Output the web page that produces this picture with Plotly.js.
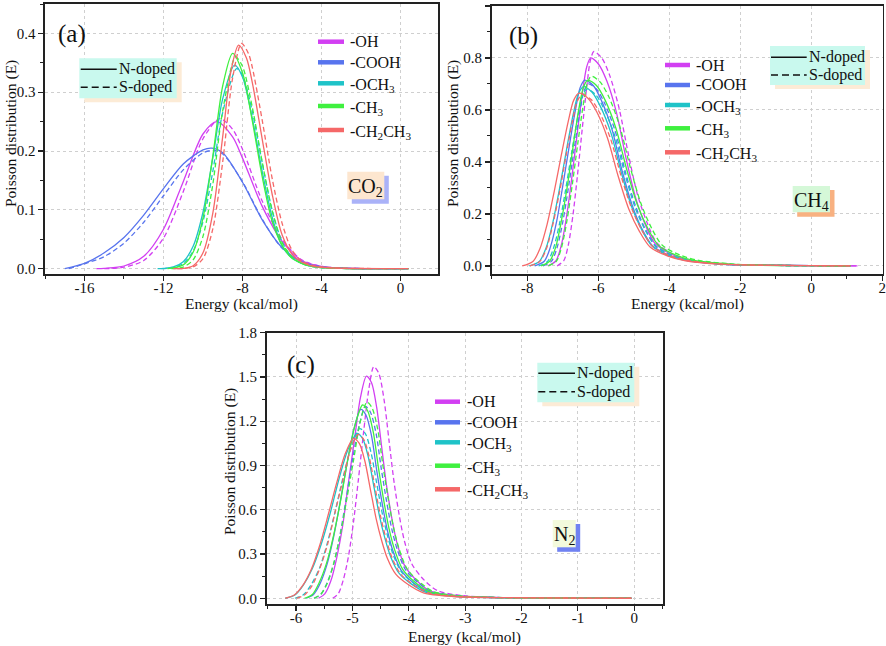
<!DOCTYPE html>
<html><head><meta charset="utf-8">
<script src="https://cdn.plot.ly/plotly-3.0.1.min.js"></script>
<style>html,body{margin:0;padding:0;background:#fff}#chart{width:886px;height:646px}</style>
</head><body><div id="chart"></div>
<script>
// ---------- Panel (a) CO2 ----------
const aOH_N_x = [-15.4,-15,-14,-13,-12,-11,-10,-9.3,-8.5,-8,-7,-6,-5,-4,-3,0.4];
const aOH_N_y = [0,0.0007,0.0046,0.021,0.067,0.148,0.229,0.25,0.224,0.188,0.106,0.047,0.014,0.004,0.001,0];
const aOH_S_x = [-15,-14,-13,-12,-11,-10,-9.15,-8.5,-8,-7,-6,-5,-4,-3,0.4];
const aOH_S_y = [0,0.0026,0.014,0.052,0.131,0.221,0.255,0.237,0.203,0.115,0.05,0.015,0.004,0.001,0];
const aCOOH_N_x = [-17,-16,-15,-14,-13,-12,-11,-10,-9.55,-9,-8,-7,-6,-5,-4,-3,-2,0.4];
const aCOOH_N_y = [0,0.009,0.027,0.053,0.091,0.136,0.178,0.202,0.205,0.197,0.147,0.083,0.036,0.012,0.003,0.001,0.0003,0];
const aCOOH_S_x = [-16.8,-16,-15,-14,-13,-12,-11,-10,-9.45,-9,-8,-7,-6,-5,-4,-3,-2,0.4];
const aCOOH_S_y = [0,0.0084,0.0206,0.0435,0.079,0.124,0.168,0.197,0.201,0.195,0.148,0.084,0.035,0.011,0.003,0.001,0.0003,0];
const aOCH3_N_x = [-12.3,-12,-11.5,-11,-10.5,-10,-9.5,-9,-8.4,-8,-7.5,-7,-6.5,-6,-5.5,-5,-4.5,-4,-3,0.4];
const aOCH3_N_y = [0,0.0005,0.003,0.012,0.038,0.096,0.189,0.289,0.346,0.326,0.255,0.165,0.088,0.039,0.018,0.009,0.004,0.002,0.0005,0];
const aOCH3_S_x = [-12.1,-11.5,-11,-10.5,-10,-9.5,-9,-8.3,-8,-7.5,-7,-6.5,-6,-5.5,-5,-4.5,-4,-3,0.4];
const aOCH3_S_y = [0,0.002,0.009,0.03,0.08,0.166,0.266,0.34,0.329,0.267,0.18,0.1,0.046,0.02,0.009,0.004,0.002,0.0005,0];
const aCH3_N_x = [-11.8,-11,-10.5,-10,-9.5,-9,-8.5,-8,-7.5,-7,-6.5,-6,-5.5,-5,-4.5,-4,-3,0.4];
const aCH3_N_y = [0,0.0065,0.028,0.086,0.192,0.311,0.366,0.333,0.251,0.156,0.081,0.04,0.018,0.009,0.004,0.002,0.0005,0];
const aCH3_S_x = [-11.6,-11,-10.5,-10,-9.5,-9,-8.35,-8,-7.5,-7,-6.5,-6,-5.5,-5,-4.5,-4,-3,0.4];
const aCH3_S_y = [0,0.0028,0.015,0.055,0.144,0.269,0.36,0.344,0.274,0.181,0.099,0.045,0.02,0.009,0.004,0.002,0.0005,0];
const aC2H5_N_x = [-11.5,-11,-10.5,-10,-9.5,-9,-8.6,-8.2,-7.8,-7.5,-7,-6.5,-6,-5.5,-5,-4.5,-4,-3,0.4];
const aC2H5_N_y = [0,0.0006,0.005,0.027,0.095,0.225,0.333,0.38,0.358,0.316,0.22,0.127,0.058,0.025,0.011,0.005,0.0025,0.0008,0];
const aC2H5_S_x = [-11.3,-11,-10.5,-10,-9.5,-9,-8.5,-8.05,-7.7,-7.5,-7,-6.5,-6,-5.5,-5,-4.5,-4,-3,0.4];
const aC2H5_S_y = [0,0.0003,0.003,0.017,0.068,0.182,0.324,0.383,0.366,0.342,0.252,0.154,0.078,0.032,0.013,0.006,0.003,0.001,0];

// ---------- Panel (b) CH4 ----------
const bOH_N_x = [-7.41,-7.19,-7.04,-6.89,-6.74,-6.59,-6.44,-6.32,-6.21,-5.99,-5.76,-5.49,-5.22,-4.95,-4.68,-4.41,-3.96,-3.51,-2.61,-1.5,0,1.3];
const bOH_N_y = [0,0.02,0.08,0.192,0.344,0.512,0.672,0.768,0.8,0.776,0.712,0.592,0.416,0.264,0.16,0.088,0.046,0.024,0.008,0.003,0.001,0];
const bOH_S_x = [-7.16,-6.97,-6.84,-6.71,-6.58,-6.45,-6.32,-6.22,-6.12,-5.9,-5.68,-5.42,-5.15,-4.89,-4.62,-4.36,-3.92,-3.48,-2.6,-1.5,0,1.3];
const bOH_S_y = [0,0.0206,0.0825,0.198,0.355,0.528,0.693,0.792,0.825,0.8,0.734,0.611,0.429,0.272,0.165,0.091,0.047,0.025,0.0083,0.003,0.001,0];
const bCOOH_N_x = [-7.79,-7.52,-7.35,-7.17,-7.0,-6.82,-6.64,-6.51,-6.38,-6.14,-5.91,-5.62,-5.34,-5.05,-4.77,-4.48,-4.01,-3.53,-2.58,-1.5,0,1.1];
const bCOOH_N_y = [0,0.018,0.0715,0.172,0.307,0.458,0.601,0.686,0.715,0.694,0.636,0.529,0.372,0.236,0.143,0.079,0.041,0.021,0.0072,0.003,0.001,0];
const bCOOH_S_x = [-7.56,-7.32,-7.16,-7.0,-6.84,-6.68,-6.52,-6.4,-6.28,-6.04,-5.81,-5.52,-5.24,-4.95,-4.67,-4.38,-3.91,-3.43,-2.48,-1.5,0,1.1];
const bCOOH_S_y = [0,0.0175,0.07,0.168,0.301,0.448,0.588,0.672,0.7,0.679,0.623,0.518,0.364,0.231,0.14,0.077,0.04,0.021,0.007,0.003,0.001,0];
const bOCH3_N_x = [-7.94,-7.66,-7.47,-7.28,-7.09,-6.9,-6.71,-6.56,-6.42,-6.18,-5.94,-5.64,-5.35,-5.06,-4.77,-4.48,-4.0,-3.51,-2.54,-1.5,0,1.1];
const bOCH3_N_y = [0,0.017,0.069,0.166,0.297,0.442,0.58,0.662,0.69,0.669,0.614,0.511,0.359,0.228,0.138,0.076,0.039,0.021,0.0069,0.003,0.001,0];
const bOCH3_S_x = [-7.68,-7.43,-7.26,-7.09,-6.92,-6.75,-6.58,-6.45,-6.32,-6.08,-5.84,-5.54,-5.25,-4.96,-4.67,-4.38,-3.9,-3.41,-2.44,-1.5,0,1.1];
const bOCH3_S_y = [0,0.017,0.068,0.163,0.292,0.435,0.571,0.653,0.68,0.66,0.605,0.503,0.354,0.224,0.136,0.075,0.039,0.02,0.0068,0.003,0.001,0];
const bCH3_N_x = [-7.61,-7.37,-7.2,-7.04,-6.87,-6.71,-6.55,-6.42,-6.3,-6.05,-5.8,-5.5,-5.2,-4.9,-4.6,-4.3,-3.8,-3.3,-2.3,-1.5,0,1.1];
const bCH3_N_y = [0,0.018,0.0715,0.172,0.307,0.458,0.601,0.686,0.715,0.694,0.636,0.529,0.372,0.236,0.143,0.079,0.041,0.021,0.0072,0.003,0.001,0];
const bCH3_S_x = [-7.4,-7.18,-7.03,-6.88,-6.73,-6.58,-6.43,-6.31,-6.2,-5.95,-5.7,-5.4,-5.1,-4.8,-4.5,-4.2,-3.7,-3.2,-2.2,-1.5,0,1.1];
const bCH3_S_y = [0,0.018,0.073,0.175,0.314,0.467,0.613,0.701,0.73,0.708,0.65,0.54,0.38,0.241,0.146,0.08,0.042,0.022,0.0073,0.003,0.001,0];
const bC2H5_N_x = [-8.14,-7.84,-7.64,-7.44,-7.24,-7.04,-6.84,-6.69,-6.54,-6.29,-6.04,-5.74,-5.44,-5.14,-4.84,-4.54,-4.04,-3.54,-2.54,-1.5,0,1.1];
const bC2H5_N_y = [0,0.017,0.067,0.16,0.286,0.426,0.559,0.638,0.665,0.645,0.592,0.492,0.346,0.219,0.133,0.073,0.038,0.02,0.0067,0.003,0.001,0];
const bC2H5_S_x = [-7.92,-7.65,-7.46,-7.28,-7.09,-6.91,-6.73,-6.59,-6.45,-6.2,-5.95,-5.65,-5.35,-5.05,-4.75,-4.45,-3.95,-3.45,-2.45,-1.5,0,1.1];
const bC2H5_S_y = [0,0.0165,0.066,0.158,0.284,0.422,0.554,0.634,0.66,0.64,0.587,0.488,0.343,0.218,0.132,0.073,0.038,0.02,0.0066,0.003,0.001,0];

// ---------- Panel (c) N2 ----------
const cOH_N_x = [-5.6,-5.49,-5.38,-5.28,-5.17,-5.07,-4.96,-4.86,-4.75,-4.66,-4.57,-4.48,-4.39,-4.3,-4.21,-4.08,-3.9,-3.63,-3.16,-2.3,-1.0,-0.05];
const cOH_N_y = [0,0.03,0.12,0.271,0.497,0.783,1.084,1.355,1.506,1.461,1.295,1.024,0.753,0.542,0.377,0.226,0.136,0.051,0.017,0.004,0.0015,0];
const cOH_S_x = [-5.35,-5.25,-5.16,-5.07,-4.98,-4.89,-4.8,-4.71,-4.62,-4.53,-4.44,-4.35,-4.26,-4.17,-4.08,-3.95,-3.77,-3.5,-3.03,-2.3,-1.0,-0.05];
const cOH_S_y = [0,0.031,0.126,0.283,0.518,0.816,1.13,1.413,1.57,1.523,1.35,1.068,0.785,0.565,0.393,0.236,0.141,0.053,0.017,0.004,0.0015,0];
const cCOOH_N_x = [-5.82,-5.69,-5.57,-5.45,-5.33,-5.21,-5.09,-4.97,-4.85,-4.76,-4.66,-4.57,-4.47,-4.38,-4.28,-4.14,-3.95,-3.67,-3.17,-2.3,-1.0,-0.05];
const cCOOH_N_y = [0,0.026,0.102,0.23,0.422,0.666,0.922,1.152,1.28,1.242,1.101,0.87,0.64,0.461,0.32,0.192,0.115,0.044,0.014,0.004,0.0015,0];
const cCOOH_S_x = [-5.68,-5.56,-5.45,-5.33,-5.22,-5.11,-5.0,-4.88,-4.77,-4.68,-4.58,-4.49,-4.39,-4.3,-4.2,-4.06,-3.87,-3.59,-3.09,-2.3,-1.0,-0.05];
const cCOOH_S_y = [0,0.026,0.104,0.234,0.429,0.676,0.936,1.17,1.3,1.261,1.118,0.884,0.65,0.468,0.325,0.195,0.117,0.044,0.014,0.004,0.0015,0];
const cOCH3_N_x = [-6.19,-6.02,-5.87,-5.71,-5.55,-5.39,-5.24,-5.08,-4.92,-4.82,-4.72,-4.62,-4.52,-4.42,-4.32,-4.17,-3.97,-3.68,-3.15,-2.3,-1.0,-0.05];
const cOCH3_N_y = [0,0.022,0.089,0.201,0.369,0.581,0.805,1.006,1.118,1.084,0.961,0.76,0.559,0.402,0.28,0.168,0.101,0.038,0.012,0.004,0.0015,0];
const cOCH3_S_x = [-6.02,-5.87,-5.73,-5.58,-5.44,-5.3,-5.16,-5.01,-4.87,-4.77,-4.67,-4.57,-4.47,-4.37,-4.27,-4.12,-3.92,-3.63,-3.1,-2.3,-1.0,-0.05];
const cOCH3_S_y = [0,0.023,0.092,0.207,0.38,0.598,0.828,1.035,1.15,1.116,0.989,0.782,0.575,0.414,0.288,0.173,0.104,0.039,0.013,0.004,0.0015,0];
const cCH3_N_x = [-5.85,-5.71,-5.59,-5.46,-5.33,-5.2,-5.08,-4.95,-4.82,-4.73,-4.63,-4.54,-4.44,-4.35,-4.25,-4.11,-3.92,-3.64,-3.14,-2.3,-1.0,-0.05];
const cCH3_N_y = [0,0.026,0.105,0.236,0.432,0.681,0.943,1.179,1.31,1.271,1.127,0.891,0.655,0.472,0.328,0.197,0.118,0.045,0.014,0.004,0.0015,0];
const cCH3_S_x = [-5.68,-5.56,-5.44,-5.33,-5.21,-5.09,-4.97,-4.86,-4.74,-4.65,-4.55,-4.46,-4.36,-4.27,-4.17,-4.03,-3.84,-3.56,-3.06,-2.3,-1.0,-0.05];
const cCH3_S_y = [0,0.027,0.106,0.239,0.439,0.692,0.958,1.197,1.33,1.29,1.144,0.904,0.665,0.479,0.333,0.2,0.12,0.045,0.015,0.004,0.0015,0];
const cC2H5_N_x = [-6.19,-6.03,-5.88,-5.73,-5.58,-5.43,-5.28,-5.13,-4.98,-4.88,-4.78,-4.68,-4.58,-4.48,-4.38,-4.23,-4.03,-3.74,-3.21,-2.3,-1.0,-0.05];
const cC2H5_N_y = [0,0.022,0.087,0.195,0.358,0.564,0.78,0.976,1.084,1.051,0.932,0.737,0.542,0.39,0.271,0.163,0.098,0.037,0.012,0.004,0.0015,0];
const cC2H5_S_x = [-5.99,-5.85,-5.71,-5.58,-5.44,-5.31,-5.17,-5.04,-4.9,-4.8,-4.7,-4.6,-4.5,-4.4,-4.3,-4.15,-3.95,-3.66,-3.13,-2.3,-1.0,-0.05];
const cC2H5_S_y = [0,0.022,0.089,0.2,0.366,0.577,0.799,0.999,1.11,1.077,0.955,0.755,0.555,0.4,0.278,0.167,0.1,0.038,0.012,0.004,0.0015,0];

// ---------- labels / ticks ----------
const groupLabels = ['-OH','-COOH','-OCH<sub>3</sub>','-CH<sub>3</sub>','-CH<sub>2</sub>CH<sub>3</sub>'];
const groupColors = ['#d23ff2','#5874ee','#1fc3c8','#3ff03f','#f56868'];
const dopingLabels = ['N-doped','S-doped'];
const aTickVals = [-16,-12,-8,-4,0];
const aTickText = ['-16','-12','-8','-4','0'];
const bTickVals = [-8,-6,-4,-2,0,2];
const bTickText = ['-8','-6','-4','-2','0','2'];
const cTickVals = [-6,-5,-4,-3,-2,-1,0];
const cTickText = ['-6','-5','-4','-3','-2','-1','0'];
const xTitle = 'Energy (kcal/mol)';
const yTitle = 'Poisson distribution (E)';

const FONT = "'Liberation Serif', 'Times New Roman', serif";
const W = 886, H = 646;
const PX = v => v / W;
const PY = v => 1 - v / H;

const panels = [
  {xa:'x', ya:'y', sets:[[aOH_N_x,aOH_N_y,aOH_S_x,aOH_S_y],[aCOOH_N_x,aCOOH_N_y,aCOOH_S_x,aCOOH_S_y],[aOCH3_N_x,aOCH3_N_y,aOCH3_S_x,aOCH3_S_y],[aCH3_N_x,aCH3_N_y,aCH3_S_x,aCH3_S_y],[aC2H5_N_x,aC2H5_N_y,aC2H5_S_x,aC2H5_S_y]]},
  {xa:'x2', ya:'y2', sets:[[bOH_N_x,bOH_N_y,bOH_S_x,bOH_S_y],[bCOOH_N_x,bCOOH_N_y,bCOOH_S_x,bCOOH_S_y],[bOCH3_N_x,bOCH3_N_y,bOCH3_S_x,bOCH3_S_y],[bCH3_N_x,bCH3_N_y,bCH3_S_x,bCH3_S_y],[bC2H5_N_x,bC2H5_N_y,bC2H5_S_x,bC2H5_S_y]]},
  {xa:'x3', ya:'y3', sets:[[cOH_N_x,cOH_N_y,cOH_S_x,cOH_S_y],[cCOOH_N_x,cCOOH_N_y,cCOOH_S_x,cCOOH_S_y],[cOCH3_N_x,cOCH3_N_y,cOCH3_S_x,cOCH3_S_y],[cCH3_N_x,cCH3_N_y,cCH3_S_x,cCH3_S_y],[cC2H5_N_x,cC2H5_N_y,cC2H5_S_x,cC2H5_S_y]]}
];

const traces = [];
panels.forEach(p => {
  p.sets.forEach((s, i) => {
    traces.push({x:s[2], y:s[3], type:'scatter', mode:'lines', xaxis:p.xa, yaxis:p.ya, showlegend:false, hoverinfo:'skip',
      line:{color:groupColors[i], width:1.3, dash:'5px,3px', shape:'spline', smoothing:0.8}});
    traces.push({x:s[0], y:s[1], type:'scatter', mode:'lines', xaxis:p.xa, yaxis:p.ya, showlegend:false, hoverinfo:'skip',
      line:{color:groupColors[i], width:1.3, shape:'spline', smoothing:0.8}});
  });
});

function xax(domain, range, tv, tt, minorD, anchor) {
  return {domain, range, anchor, tickmode:'array', tickvals:tv, ticktext:tt, ticks:'outside', ticklen:5, tickwidth:1.2,
    ticklabelstandoff:-6, ticklabeloverflow:'allow',
    showline:true, linecolor:'#222', linewidth:1.6, mirror:true, zeroline:false,
    showgrid:true, gridcolor:'#cfcfcf', griddash:'dot', gridwidth:1,
    minor:{dtick:minorD, tick0:0, ticks:'outside', ticklen:3, tickwidth:1, tickcolor:'#222', showgrid:false},
    tickfont:{family:FONT, size:15, color:'#111'}, tickcolor:'#222'};
}
function yax(domain, range, dtick, minorD, anchor) {
  return {domain, range, anchor, tickmode:'linear', tick0:0, dtick, tickformat:'.1f', ticks:'outside', ticklen:5, tickwidth:1.2,
    showline:true, linecolor:'#222', linewidth:1.6, mirror:true, zeroline:false,
    showgrid:true, gridcolor:'#cfcfcf', griddash:'dot', gridwidth:1,
    minor:{dtick:minorD, tick0:0, ticks:'outside', ticklen:3, tickwidth:1, tickcolor:'#222', showgrid:false},
    tickfont:{family:FONT, size:15, color:'#111'}, tickcolor:'#222'};
}

const shapes = [];
const annotations = [];
function txt(x, y, text, size, opts) {
  annotations.push(Object.assign({xref:'paper', yref:'paper', x:PX(x), y:PY(y), text, showarrow:false,
    xanchor:'left', yanchor:'middle', font:{family:FONT, size, color:'#111'}}, opts || {}));
}
function rect(x0, y0, x1, y1, color) {
  shapes.push({type:'rect', xref:'paper', yref:'paper', x0:PX(x0), x1:PX(x1), y0:PY(y1), y1:PY(y0), fillcolor:color, line:{width:0}, layer:'above'});
}
function seg(x0, y, x1, color, width, dash) {
  shapes.push({type:'line', xref:'paper', yref:'paper', x0:PX(x0), x1:PX(x1), y0:PY(y), y1:PY(y), line:{color, width, dash:dash||'solid'}, layer:'above'});
}

// group legends
function groupLegend(x0, x1, tx, rows) {
  rows.forEach((ry, i) => {
    seg(x0, ry, x1, groupColors[i], 4.5);
    txt(tx, ry + (i >= 2 ? 2.5 : 0), groupLabels[i], 16);
  });
}
groupLegend(318, 344, 348, [41.7, 62.3, 83.3, 106, 130]);
groupLegend(665, 690, 694, [65, 85, 105, 128.3, 152.3]);
groupLegend(435, 460, 465, [401.7, 422.3, 442.3, 465.7, 489.3]);

// doping boxes
function dopBox(bx0, by0, bx1, by1, lx0, lx1, r1, r2) {
  rect(bx0 + 5, by0 + 4, bx1 + 5, by1 + 4, '#fcebd6');
  rect(bx0, by0, bx1, by1, '#c9f9ee');
  seg(lx0, r1, lx1, '#111', 1.6);
  seg(lx0, r2, lx1, '#111', 1.6, '7px,4px');
  txt(lx1, r1, dopingLabels[0], 16);
  txt(lx1, r2, dopingLabels[1], 16);
}
dopBox(79.3, 58.3, 176.7, 98.3, 80.7, 116.7, 69.3, 87.3);
dopBox(770, 46, 865, 85, 771, 806.7, 57.3, 75);
dopBox(537.3, 362.7, 634.3, 402.3, 538.3, 575, 373.3, 391.7);

// gas labels
function gasBox(x0, y0, x1, y1, bg, sh, text) {
  rect(x0 + 4.5, y0 + 4, x1 + 4.5, y1 + 4.5, sh);
  rect(x0, y0, x1, y1, bg);
  txt((x0 + x1) / 2, (y0 + y1) / 2 + 2, text, 20, {xanchor:'center'});
}
gasBox(347.3, 171.7, 384.3, 199.3, '#fde6cf', '#aab2f8', 'CO<sub>2</sub>');
gasBox(792.7, 186, 830, 212.3, '#d5f8d8', '#f8b181', 'CH<sub>4</sub>');
gasBox(552.7, 520, 575.7, 547.3, '#f3fadc', '#7082f2', 'N<sub>2</sub>');

// panel tags
txt(72, 34, '(a)', 25, {xanchor:'center'});
txt(523, 36, '(b)', 25, {xanchor:'center'});
txt(301, 365, '(c)', 25, {xanchor:'center'});

// axis titles
txt(241, 304, xTitle, 15.5, {xanchor:'center'});
txt(687, 304, xTitle, 15.5, {xanchor:'center'});
txt(465, 637, xTitle, 15.5, {xanchor:'center'});
txt(11, 134, yTitle, 15.5, {xanchor:'center', textangle:-90});
txt(453, 134, yTitle, 15.5, {xanchor:'center', textangle:-90});
txt(230, 462, yTitle, 15.5, {xanchor:'center', textangle:-90});

const layout = {
  width:W, height:H, margin:{l:0, r:0, t:0, b:0}, paper_bgcolor:'#fff', plot_bgcolor:'#fff', showlegend:false,
  font:{family:FONT, size:15, color:'#111'},
  xaxis: xax([PX(45), PX(438)], [-18, 1.9], aTickVals, aTickText, 2, 'y'),
  yaxis: yax([PY(274), PY(4)], [-0.009, 0.45], 0.1, 0.05, 'x'),
  xaxis2: xax([PX(491.7), PX(882.7)], [-9, 2.01], bTickVals, bTickText, 1, 'y2'),
  yaxis2: yax([PY(274), PY(6)], [-0.031, 1.0], 0.2, 0.1, 'x2'),
  xaxis3: xax([PX(266.7), PX(663)], [-6.52, 0.51], cTickVals, cTickText, 0.5, 'y3'),
  yaxis3: yax([PY(604), PY(332.7)], [-0.039, 1.8], 0.3, 0.15, 'x3'),
  shapes, annotations
};
Plotly.newPlot('chart', traces, layout, {staticPlot:true, displayModeBar:false});
</script></body></html>
